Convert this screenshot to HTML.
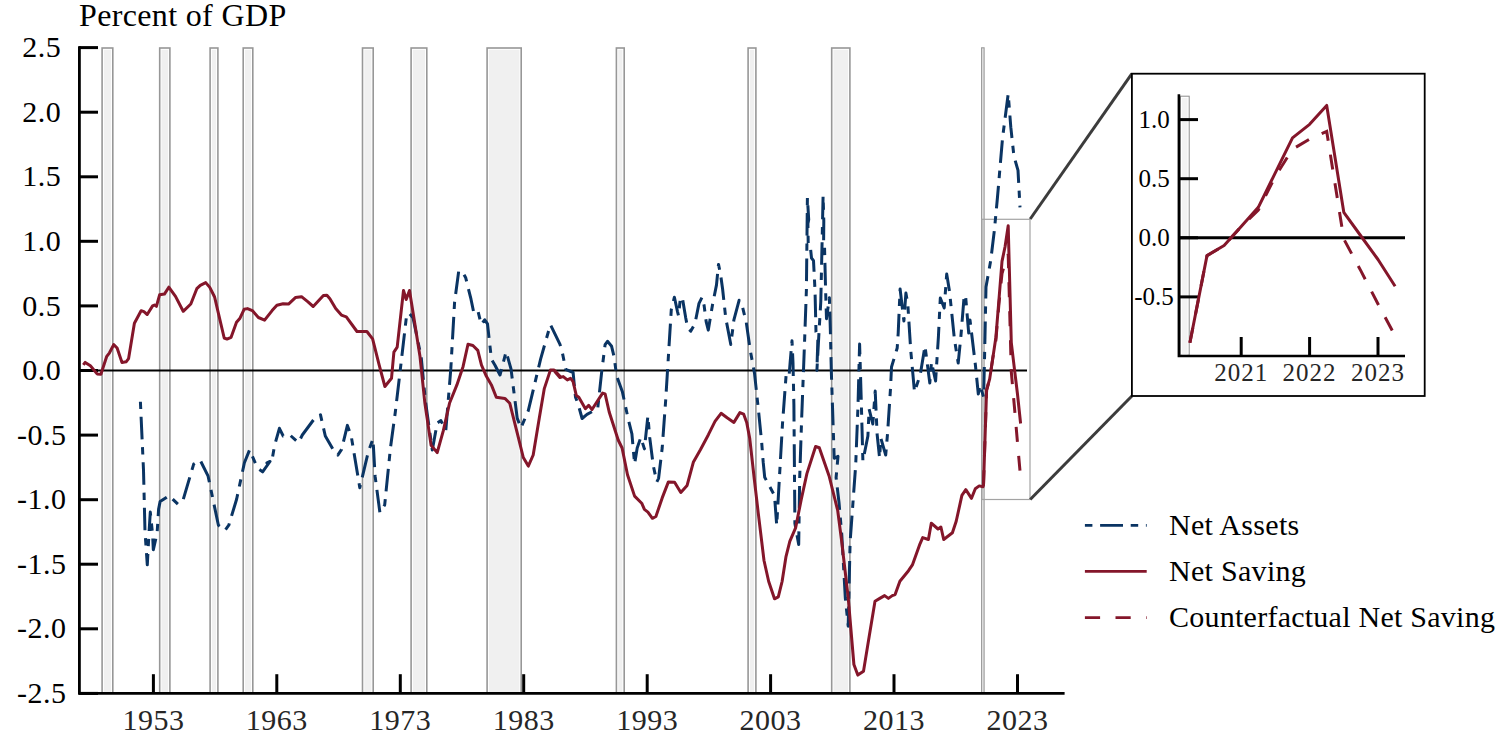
<!DOCTYPE html><html><head><meta charset="utf-8"><style>html,body{margin:0;padding:0;background:#fff;overflow:hidden}svg{display:block}</style></head><body><svg width="1500" height="731" viewBox="0 0 1500 731" font-family="Liberation Serif">
<rect width="1500" height="731" fill="#fff"/>
<rect x="102.10" y="48.0" width="10.70" height="645" fill="#fff" stroke="#979797" stroke-width="1.6"/>
<rect x="103.90" y="49.8" width="7.10" height="643" fill="#f0f0f0"/>
<rect x="159.70" y="48.0" width="10.20" height="645" fill="#fff" stroke="#979797" stroke-width="1.6"/>
<rect x="161.50" y="49.8" width="6.60" height="643" fill="#f0f0f0"/>
<rect x="210.10" y="48.0" width="7.80" height="645" fill="#fff" stroke="#979797" stroke-width="1.6"/>
<rect x="211.90" y="49.8" width="4.20" height="643" fill="#f0f0f0"/>
<rect x="243.20" y="48.0" width="9.60" height="645" fill="#fff" stroke="#979797" stroke-width="1.6"/>
<rect x="245.00" y="49.8" width="6.00" height="643" fill="#f0f0f0"/>
<rect x="362.50" y="48.0" width="10.70" height="645" fill="#fff" stroke="#979797" stroke-width="1.6"/>
<rect x="364.30" y="49.8" width="7.10" height="643" fill="#f0f0f0"/>
<rect x="411.10" y="48.0" width="15.70" height="645" fill="#fff" stroke="#979797" stroke-width="1.6"/>
<rect x="412.90" y="49.8" width="12.10" height="643" fill="#f0f0f0"/>
<rect x="487.10" y="48.0" width="34.10" height="645" fill="#fff" stroke="#979797" stroke-width="1.6"/>
<rect x="488.90" y="49.8" width="30.50" height="643" fill="#f0f0f0"/>
<rect x="616.40" y="48.0" width="7.80" height="645" fill="#fff" stroke="#979797" stroke-width="1.6"/>
<rect x="618.20" y="49.8" width="4.20" height="643" fill="#f0f0f0"/>
<rect x="748.10" y="48.0" width="7.80" height="645" fill="#fff" stroke="#979797" stroke-width="1.6"/>
<rect x="749.90" y="49.8" width="4.20" height="643" fill="#f0f0f0"/>
<rect x="831.70" y="48.0" width="18.20" height="645" fill="#fff" stroke="#979797" stroke-width="1.6"/>
<rect x="833.50" y="49.8" width="14.60" height="643" fill="#f0f0f0"/>
<rect x="981.60" y="47.8" width="2.50" height="645.2" fill="#e8e8e8" stroke="#999" stroke-width="1.1"/>
<text x="79" y="26.4" font-size="32" letter-spacing="0.35" fill="#000">Percent of GDP</text>
<text x="41.8" y="57.2" font-size="30" letter-spacing="0.5" text-anchor="middle" fill="#000">2.5</text>
<line x1="79" y1="47.6" x2="98" y2="47.6" stroke="#000" stroke-width="3"/>
<text x="41.8" y="121.8" font-size="30" letter-spacing="0.5" text-anchor="middle" fill="#000">2.0</text>
<line x1="79" y1="112.2" x2="98" y2="112.2" stroke="#000" stroke-width="3"/>
<text x="41.8" y="186.4" font-size="30" letter-spacing="0.5" text-anchor="middle" fill="#000">1.5</text>
<line x1="79" y1="176.8" x2="98" y2="176.8" stroke="#000" stroke-width="3"/>
<text x="41.8" y="250.9" font-size="30" letter-spacing="0.5" text-anchor="middle" fill="#000">1.0</text>
<line x1="79" y1="241.3" x2="98" y2="241.3" stroke="#000" stroke-width="3"/>
<text x="41.8" y="315.5" font-size="30" letter-spacing="0.5" text-anchor="middle" fill="#000">0.5</text>
<line x1="79" y1="305.9" x2="98" y2="305.9" stroke="#000" stroke-width="3"/>
<text x="41.8" y="380.1" font-size="30" letter-spacing="0.5" text-anchor="middle" fill="#000">0.0</text>
<line x1="79" y1="370.5" x2="98" y2="370.5" stroke="#000" stroke-width="3"/>
<text x="41.8" y="444.7" font-size="30" letter-spacing="0.5" text-anchor="middle" fill="#000">-0.5</text>
<line x1="79" y1="435.1" x2="98" y2="435.1" stroke="#000" stroke-width="3"/>
<text x="41.8" y="509.3" font-size="30" letter-spacing="0.5" text-anchor="middle" fill="#000">-1.0</text>
<line x1="79" y1="499.7" x2="98" y2="499.7" stroke="#000" stroke-width="3"/>
<text x="41.8" y="573.8" font-size="30" letter-spacing="0.5" text-anchor="middle" fill="#000">-1.5</text>
<line x1="79" y1="564.2" x2="98" y2="564.2" stroke="#000" stroke-width="3"/>
<text x="41.8" y="638.4" font-size="30" letter-spacing="0.5" text-anchor="middle" fill="#000">-2.0</text>
<line x1="79" y1="628.8" x2="98" y2="628.8" stroke="#000" stroke-width="3"/>
<text x="41.8" y="703.0" font-size="30" letter-spacing="0.5" text-anchor="middle" fill="#000">-2.5</text>
<line x1="79" y1="693.4" x2="98" y2="693.4" stroke="#000" stroke-width="3"/>
<text x="153.4" y="729.5" font-size="30" letter-spacing="0.5" text-anchor="middle" fill="#262626">1953</text>
<line x1="153.4" y1="674.2" x2="153.4" y2="693" stroke="#000" stroke-width="3"/>
<text x="276.8" y="729.5" font-size="30" letter-spacing="0.5" text-anchor="middle" fill="#262626">1963</text>
<line x1="276.8" y1="674.2" x2="276.8" y2="693" stroke="#000" stroke-width="3"/>
<text x="400.3" y="729.5" font-size="30" letter-spacing="0.5" text-anchor="middle" fill="#262626">1973</text>
<line x1="400.3" y1="674.2" x2="400.3" y2="693" stroke="#000" stroke-width="3"/>
<text x="523.7" y="729.5" font-size="30" letter-spacing="0.5" text-anchor="middle" fill="#262626">1983</text>
<line x1="523.7" y1="674.2" x2="523.7" y2="693" stroke="#000" stroke-width="3"/>
<text x="647.2" y="729.5" font-size="30" letter-spacing="0.5" text-anchor="middle" fill="#262626">1993</text>
<line x1="647.2" y1="674.2" x2="647.2" y2="693" stroke="#000" stroke-width="3"/>
<text x="770.6" y="729.5" font-size="30" letter-spacing="0.5" text-anchor="middle" fill="#262626">2003</text>
<line x1="770.6" y1="674.2" x2="770.6" y2="693" stroke="#000" stroke-width="3"/>
<text x="894.0" y="729.5" font-size="30" letter-spacing="0.5" text-anchor="middle" fill="#262626">2013</text>
<line x1="894.0" y1="674.2" x2="894.0" y2="693" stroke="#000" stroke-width="3"/>
<text x="1017.5" y="729.5" font-size="30" letter-spacing="0.5" text-anchor="middle" fill="#262626">2023</text>
<line x1="1017.5" y1="674.2" x2="1017.5" y2="693" stroke="#000" stroke-width="3"/>
<line x1="79" y1="370.5" x2="1027" y2="370.5" stroke="#000" stroke-width="2"/>
<path d="M79.4,46.2 V693.4 H1064.6" fill="none" stroke="#000" stroke-width="2.8"/>
<rect x="981.9" y="219.3" width="48.1" height="280.2" fill="none" stroke="#a3a3a3" stroke-width="1.2"/>
<line x1="1030.2" y1="219" x2="1131.9" y2="73.7" stroke="#3c3c3c" stroke-width="3"/>
<line x1="1030.2" y1="499.5" x2="1131.9" y2="396" stroke="#3c3c3c" stroke-width="3"/>
<rect x="1131.9" y="73.7" width="292.8" height="322.3" fill="#fff" stroke="#000" stroke-width="1.8"/>
<rect x="1180.5" y="96.2" width="8.7" height="259" fill="#fff" stroke="#8c8c8c" stroke-width="1"/><rect x="1182" y="97.8" width="5.5" height="257" fill="#f2f2f2"/>
<text x="1154" y="127.9" font-size="25" text-anchor="middle" fill="#000">1.0</text>
<line x1="1179" y1="119.6" x2="1198" y2="119.6" stroke="#000" stroke-width="3"/>
<text x="1154" y="187.0" font-size="25" text-anchor="middle" fill="#000">0.5</text>
<line x1="1179" y1="178.7" x2="1198" y2="178.7" stroke="#000" stroke-width="3"/>
<text x="1154" y="246.1" font-size="25" text-anchor="middle" fill="#000">0.0</text>
<line x1="1179" y1="237.8" x2="1198" y2="237.8" stroke="#000" stroke-width="3"/>
<text x="1154" y="305.2" font-size="25" text-anchor="middle" fill="#000">-0.5</text>
<line x1="1179" y1="296.9" x2="1198" y2="296.9" stroke="#000" stroke-width="3"/>
<text x="1241.2" y="380.8" font-size="25" letter-spacing="1" text-anchor="middle" fill="#262626">2021</text>
<line x1="1241.2" y1="337" x2="1241.2" y2="356" stroke="#000" stroke-width="3"/>
<text x="1309.6" y="380.8" font-size="25" letter-spacing="1" text-anchor="middle" fill="#262626">2022</text>
<line x1="1309.6" y1="337" x2="1309.6" y2="356" stroke="#000" stroke-width="3"/>
<text x="1378.0" y="380.8" font-size="25" letter-spacing="1" text-anchor="middle" fill="#262626">2023</text>
<line x1="1378.0" y1="337" x2="1378.0" y2="356" stroke="#000" stroke-width="3"/>
<line x1="1179" y1="237.8" x2="1405" y2="237.8" stroke="#000" stroke-width="3"/>
<path d="M1178.9,94.2 V356 H1405" fill="none" stroke="#000" stroke-width="2.6"/>
<polyline points="140.4,401.7 143.5,470.0 145.0,531.7 147.3,564.8 148.8,536.2 150.3,512.1 152.6,534.7 153.3,549.8 157.1,533.2 158.6,509.1 160.1,501.6 169.1,495.6 178.1,504.4 183.3,499.2 193.7,464.1 200.2,460.2 208.0,475.8 218.4,525.2 224.9,530.4 228.8,525.2 236.6,499.2 244.4,462.8 249.6,449.8 257.4,468.0 262.6,471.9 270.0,461.5 266.9,462.8 271.7,461.8 274.6,445.5 279.4,428.3 283.2,436.0 289.9,435.0 298.5,442.7 302.3,435.0 315.8,416.8 320.5,414.9 325.3,436.0 333.0,449.4 337.8,455.1 341.6,449.4 347.4,425.4 351.2,436.0 359.8,487.7 368.5,451.0 373.0,439.0 375.1,476.2 379.9,512.6 384.7,504.9 390.5,447.5 395.2,413.0 399.1,380.0 406.4,317.0 408.9,312.8 413.0,317.8 421.2,357.2 425.3,400.0 432.3,450.1 437.2,423.0 440.9,420.6 445.8,430.4 450.8,368.9 454.6,302.0 458.7,271.2 462.1,271.2 465.6,277.4 471.0,299.2 473.8,312.9 477.9,310.9 481.3,324.6 484.7,319.8 487.5,323.9 491.4,359.1 495.0,365.2 500.0,375.0 506.1,351.7 511.0,368.9 517.2,418.1 520.9,428.0 528.3,410.7 540.6,359.1 550.4,324.6 560.0,344.3 562.4,352.8 565.7,369.3 573.1,372.5 575.5,397.2 578.0,403.7 582.1,418.5 587.0,414.4 597.7,408.7 601.8,370.9 605.1,344.6 607.5,341.3 611.6,346.3 614.1,356.9 616.6,375.8 622.3,391.4 628.3,419.6 631.9,433.8 634.6,464.1 637.2,448.0 640.8,437.4 644.4,448.9 647.9,416.0 649.7,437.4 653.3,465.8 656.8,481.9 658.6,478.3 662.2,448.0 665.7,400.0 671.3,309.5 674.4,297.2 677.5,311.6 678.5,315.7 680.5,297.2 682.6,299.3 685.7,317.8 687.7,328.0 690.8,331.1 694.9,323.9 699.0,303.4 702.1,297.2 704.1,305.4 706.2,321.9 708.3,330.1 712.4,305.4 716.5,284.9 718.5,264.4 720.6,274.6 722.6,289.0 725.7,317.8 730.8,344.5 733.9,319.8 739.1,300.3 742.1,305.4 746.2,321.9 750.3,350.6 754.5,373.2 758.7,412.6 761.7,442.7 763.2,462.2 764.7,477.3 769.2,485.6 774.5,495.4 776.7,525.4 782.5,423.8 786.3,372.4 789.2,374.3 790.1,362.8 792.0,340.8 793.0,362.8 793.9,405.0 794.9,523.4 798.7,544.5 799.7,477.5 801.6,420.0 804.5,343.6 806.4,290.0 807.4,197.8 808.7,219.7 807.9,223.8 808.2,242.9 810.1,244.3 811.5,258.0 813.5,260.7 815.0,290.0 816.0,332.1 817.9,337.9 816.9,370.5 818.9,334.1 820.8,301.5 823.1,195.7 823.8,221.0 823.6,243.0 824.5,245.7 825.6,290.0 826.5,318.7 829.4,297.7 830.3,328.3 831.3,370.5 833.2,427.9 834.2,458.3 838.0,456.4 836.1,477.5 839.0,502.4 841.8,535.0 845.3,597.5 848.2,626.2 850.1,541.9 855.7,465.0 858.0,406.0 859.6,344.0 861.1,395.0 862.9,461.0 867.9,436.0 869.1,409.0 872.8,424.0 875.2,391.0 877.1,434.0 879.6,458.0 880.8,438.0 885.7,455.0 887.6,433.0 890.6,387.0 891.5,367.0 897.2,348.0 898.2,333.0 900.1,289.0 903.9,321.0 905.9,293.0 907.8,304.0 910.7,350.0 914.5,392.0 920.2,375.0 925.0,346.0 929.8,383.0 931.5,362.0 935.6,381.0 938.4,337.0 940.3,298.0 944.2,308.0 946.7,274.0 949.6,292.0 954.4,339.0 958.2,363.0 961.0,335.0 964.0,298.0 965.5,295.0 968.7,333.0 970.0,320.0 975.4,365.0 978.3,394.0 980.0,385.0 983.6,397.0 984.5,360.0 986.0,287.0 990.8,260.0 994.4,230.0 997.5,197.0 1000.5,162.0 1002.6,137.5 1008.2,94.0 1010.8,127.2 1013.9,156.0 1018.0,170.4 1020.0,207.3" fill="none" stroke="#0a3463" stroke-width="3" stroke-dasharray="7.3 7.8 22.6 7.8" stroke-linejoin="round"/>
<polyline points="83.3,364.9 85.2,362.4 90.4,365.8 97.1,373.9 100.9,374.3 106.6,356.7 109.5,352.8 113.7,344.6 117.1,348.0 122.0,362.4 126.1,361.8 128.6,358.6 134.4,323.2 141.1,310.7 143.9,311.7 147.2,314.5 152.6,305.9 154.5,305.0 156.4,306.3 159.6,294.8 164.4,294.1 168.8,287.2 175.5,296.4 183.2,311.3 190.8,304.0 196.8,288.7 200.3,285.3 205.7,282.6 209.8,287.4 214.6,297.0 218.7,314.7 224.2,338.0 227.0,339.1 231.1,337.3 236.5,322.3 240.0,318.2 244.1,309.3 247.5,308.6 252.3,310.6 258.4,317.5 264.6,320.2 272.1,310.6 276.9,305.2 283.1,303.8 288.5,304.1 295.4,297.6 301.5,296.7 307.7,301.7 313.2,306.5 323.4,295.6 326.9,295.3 329.9,298.7 335.7,308.6 341.4,315.1 346.3,316.8 357.0,331.5 366.9,331.5 372.6,338.9 379.2,365.2 384.9,386.5 391.5,378.3 393.9,352.1 397.2,347.1 403.5,290.5 406.2,299.5 409.5,290.5 413.6,316.0 420.0,356.6 424.9,403.3 431.1,445.2 437.2,452.6 443.4,430.4 449.5,403.3 456.9,384.9 463.1,366.4 468.0,344.3 472.9,345.5 477.8,350.4 481.5,365.2 486.4,376.3 491.4,384.9 496.3,397.2 504.9,398.4 509.8,403.3 517.2,432.9 523.3,457.5 528.3,466.1 533.2,455.0 539.3,418.1 544.3,388.6 550.4,370.1 554.1,370.1 560.0,376.3 555.0,371.7 559.9,377.5 563.2,376.6 567.3,379.9 570.6,378.3 573.1,381.6 576.3,395.5 578.8,397.2 585.4,408.7 588.7,405.4 592.0,409.5 602.6,393.1 605.1,393.9 609.2,412.0 618.2,440.0 622.1,448.0 627.5,474.7 634.6,496.1 641.7,503.2 644.4,509.4 647.9,512.1 652.4,518.3 655.9,516.5 662.2,497.9 668.4,481.9 674.6,482.2 680.8,492.5 687.1,485.4 693.3,462.3 700.4,449.8 708.4,434.7 715.0,421.4 721.1,413.3 727.1,417.8 733.9,422.4 739.9,412.6 743.6,414.1 746.7,422.4 749.7,438.2 754.4,480.0 758.2,512.6 764.0,560.5 768.7,581.5 774.5,598.8 778.3,596.9 782.1,581.5 786.0,556.6 789.8,541.3 795.6,527.9 801.3,499.2 806.9,473.6 815.6,446.5 819.3,447.7 829.1,476.0 837.7,510.5 841.5,540.0 848.2,597.5 853.9,664.5 857.8,675.1 863.5,671.2 869.3,635.8 875.0,601.3 879.8,598.4 884.6,595.6 888.4,598.4 892.3,595.6 895.1,594.6 899.9,581.2 908.5,570.7 912.4,564.9 920.0,543.8 922.7,537.6 928.4,539.5 931.3,523.2 938.0,529.0 940.9,527.0 943.7,539.5 952.4,532.8 956.2,521.3 961.9,495.4 965.8,489.7 971.5,498.3 975.3,488.7 979.2,485.9 983.0,486.8 983.5,485.2 986.6,390.0 989.7,378.9 992.8,358.1 995.9,337.2 999.0,299.2 1002.0,261.4 1005.1,246.5 1008.2,225.8 1011.3,342.6 1014.4,368.6 1017.5,394.3 1020.6,423.5" fill="none" stroke="#84162a" stroke-width="3" stroke-linejoin="round"/>
<polyline points="983.5,485.2 986.6,390.0 989.7,378.9 992.8,358.1 995.9,340.1 999.0,303.3 1002.0,273.6 1005.1,262.7 1008.2,254.3 1011.3,371.8 1014.4,406.7 1017.5,442.8 1020.6,477.7" fill="none" stroke="#84162a" stroke-width="3" stroke-dasharray="15 14"/>
<polyline points="1189.9,342.8 1207.0,255.6 1224.1,245.5 1241.2,226.5 1258.3,207.3 1275.4,172.6 1292.5,137.9 1309.6,124.3 1326.7,105.4 1343.8,212.3 1360.9,236.0 1378.0,259.5 1395.1,286.3" fill="none" stroke="#84162a" stroke-width="3" stroke-linejoin="round"/>
<polyline points="1189.9,342.8 1207.0,255.6 1224.1,245.5 1241.2,226.5 1258.3,210.0 1275.4,176.3 1292.5,149.2 1309.6,139.1 1326.7,131.4 1343.8,239.0 1360.9,270.9 1378.0,304.0 1395.1,335.9" fill="none" stroke="#84162a" stroke-width="3" stroke-dasharray="15 14"/>
<line x1="1084.9" y1="525.3" x2="1146.7" y2="525.3" stroke="#0a3463" stroke-width="2.8" stroke-dasharray="7.5 7.7 22.9 7.7"/>
<line x1="1084.9" y1="571.4" x2="1146.7" y2="571.4" stroke="#84162a" stroke-width="2.8"/>
<line x1="1084.9" y1="617.7" x2="1146.7" y2="617.7" stroke="#84162a" stroke-width="2.8" stroke-dasharray="15.2 15.4"/>
<text x="1169" y="535.2" font-size="30" letter-spacing="0.3" fill="#000">Net Assets</text>
<text x="1169" y="581.1" font-size="30" letter-spacing="0.3" fill="#000">Net Saving</text>
<text x="1169" y="627" font-size="30" letter-spacing="0.25" fill="#000">Counterfactual Net Saving</text>
</svg></body></html>
